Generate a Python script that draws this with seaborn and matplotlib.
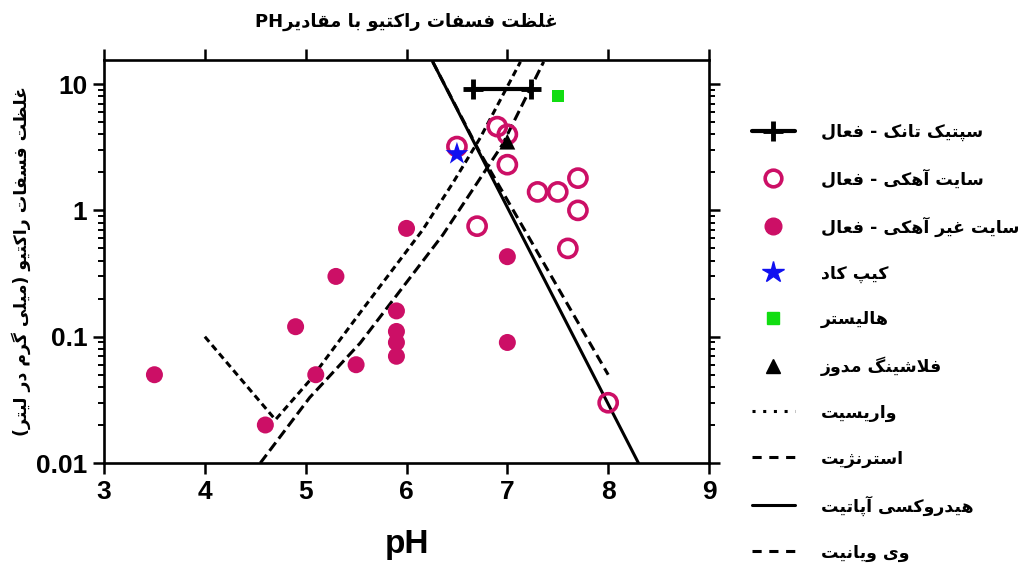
import numpy as np
import pandas as pd
import matplotlib
matplotlib.use("Agg")
import matplotlib.pyplot as plt
from matplotlib.lines import Line2D
import seaborn as sns

# --- data ---
calc_ph = [6.5, 6.9, 7.0, 7.0, 6.7, 7.3, 7.5, 7.7, 7.7, 7.6, 8.0]
calc_p = [3.2, 4.6, 4.0, 2.3, 0.75, 1.4, 1.4, 1.8, 1.0, 0.5, 0.03]

noncalc_ph = [3.5, 4.6, 4.9, 5.1, 5.3, 5.5, 5.9, 5.9, 5.9, 5.9, 6.0, 7.0, 7.0]
noncalc_p = [0.05, 0.02, 0.12, 0.05, 0.3, 0.06, 0.16, 0.11, 0.09, 0.07, 0.72, 0.43, 0.09]

septic_ph = [6.66, 7.23]
septic_p = [9.2, 9.2]
capecod_ph, capecod_p = [6.5], [2.8]
hollister_ph, hollister_p = [7.5], [8.0]
flushing_ph, flushing_p = [7.0], [3.5]

variscite_ph = [4.0, 4.7, 5.04, 5.54, 6.16, 6.46, 6.73, 7.13]
variscite_p = [0.1, 0.022, 0.045, 0.155, 0.70, 1.65, 3.74, 15]
strengite_ph = [4.55, 5.04, 5.54, 6.36, 6.95, 7.36]
strengite_p = [0.01, 0.033, 0.089, 0.64, 3.3, 15]
hydroxyapatite_ph = [6.26, 8.30]
hydroxyapatite_p = [15, 0.01]
vivianite_ph = [6.26, 6.73, 8.0]
vivianite_p = [15, 2.85, 0.05]

yticks = [0.01, 0.1, 1, 10]
ytick_labels = ['0.01', '0.1', '1', '10']
xticks = [3, 4, 5, 6, 7, 8, 9]

title_fa = 'غلظت فسفات راکتیو با مقادیر'
ylabel_fa = 'غلظت فسفات راکتیو (میلی گرم در لیتر)'
labels_fa = ['سپتیک تانک - فعال', 'سایت آهکی - فعال', 'سایت غیر آهکی - فعال',
             'کیپ کاد', 'هالیستر', 'فلاشینگ مدوز', 'واریسیت', 'استرنژیت',
             'هیدروکسی آپاتیت', 'وی ویانیت']

# --- tiny persian shaper (matplotlib has no bidi / joining) ---
_F = {
    'ا': (0xFE8D, 0xFE8E), 'آ': (0xFE81, 0xFE82), 'د': (0xFEA9, 0xFEAA),
    'ر': (0xFEAD, 0xFEAE), 'ز': (0xFEAF, 0xFEB0), 'ژ': (0xFB8A, 0xFB8B),
    'و': (0xFEED, 0xFEEE),
    'ب': (0xFE8F, 0xFE90, 0xFE91, 0xFE92), 'پ': (0xFB56, 0xFB57, 0xFB58, 0xFB59),
    'ت': (0xFE95, 0xFE96, 0xFE97, 0xFE98), 'س': (0xFEB1, 0xFEB2, 0xFEB3, 0xFEB4),
    'ش': (0xFEB5, 0xFEB6, 0xFEB7, 0xFEB8), 'ظ': (0xFEC5, 0xFEC6, 0xFEC7, 0xFEC8),
    'ع': (0xFEC9, 0xFECA, 0xFECB, 0xFECC), 'غ': (0xFECD, 0xFECE, 0xFECF, 0xFED0),
    'ف': (0xFED1, 0xFED2, 0xFED3, 0xFED4), 'ق': (0xFED5, 0xFED6, 0xFED7, 0xFED8),
    'ک': (0xFB8E, 0xFB8F, 0xFB90, 0xFB91), 'گ': (0xFB92, 0xFB93, 0xFB94, 0xFB95),
    'ل': (0xFEDD, 0xFEDE, 0xFEDF, 0xFEE0), 'م': (0xFEE1, 0xFEE2, 0xFEE3, 0xFEE4),
    'ن': (0xFEE5, 0xFEE6, 0xFEE7, 0xFEE8), 'ه': (0xFEE9, 0xFEEA, 0xFEEB, 0xFEEC),
    'ی': (0xFBFC, 0xFBFD, 0xFBFE, 0xFBFF),
}
_LA = {'ا': (0xFEFB, 0xFEFC), 'آ': (0xFEF5, 0xFEF6)}


def rtl(s):
    out = []
    i = 0
    prev = False
    while i < len(s):
        c = s[i]
        if c == 'ل' and i + 1 < len(s) and s[i + 1] in _LA:
            f = _LA[s[i + 1]]
            out.append(chr(f[1] if prev else f[0]))
            prev = False
            i += 2
            continue
        if c not in _F:
            out.append(c)
            prev = False
            i += 1
            continue
        f = _F[c]
        nxt = s[i + 1] if i + 1 < len(s) else ''
        nj = len(f) == 4 and nxt in _F
        if prev and nj:
            g = f[3]
        elif prev:
            g = f[1]
        elif nj:
            g = f[2]
        else:
            g = f[0]
        out.append(chr(g))
        prev = len(f) == 4
        i += 1
    return ''.join(reversed(out)).translate(str.maketrans('()', ')('))


sns.set_style('ticks')
plt.rcParams['font.family'] = ['Liberation Sans', 'DejaVu Sans']
plt.rcParams['font.weight'] = 'bold'
for k in ['text.color', 'axes.labelcolor', 'xtick.color', 'ytick.color',
          'axes.edgecolor']:
    plt.rcParams[k] = 'black'

mag = '#CC0F66'
fig = plt.figure(figsize=(10.34, 5.65), dpi=100)
ax = fig.add_axes([0.1006, 0.1805, 0.5851, 0.7133])

# lines
lw = 2.2
sns.lineplot(x=variscite_ph, y=variscite_p, sort=False, estimator=None, ax=ax,
             color='black', lw=lw, linestyle=(0, (2.2, 1.4)))
sns.lineplot(x=strengite_ph, y=strengite_p, sort=False, estimator=None, ax=ax,
             color='black', lw=lw, linestyle=(0, (3.4, 1.6)))
sns.lineplot(x=hydroxyapatite_ph, y=hydroxyapatite_p, sort=False, estimator=None,
             ax=ax, color='black', lw=lw)
sns.lineplot(x=vivianite_ph, y=vivianite_p, sort=False, estimator=None, ax=ax,
             color='black', lw=lw, linestyle=(0, (3.2, 1.8)))

# septic tank
ax.plot(septic_ph, septic_p, color='black', lw=3, marker='+', ms=15, mew=3.5)

# points
sns.scatterplot(x=noncalc_ph, y=noncalc_p, ax=ax, color=mag, s=150,
                edgecolor='none', zorder=3)
sns.scatterplot(x=calc_ph, y=calc_p, ax=ax, marker='o', s=170,
                facecolor='none', edgecolor=mag, linewidth=2.6, zorder=3)
sns.scatterplot(x=capecod_ph, y=capecod_p, ax=ax, marker='*', color='#1010F0',
                s=300, edgecolor='none', zorder=4)
sns.scatterplot(x=hollister_ph, y=hollister_p, ax=ax, marker='s', color='#11DD11',
                s=70, edgecolor='none', zorder=4)
sns.scatterplot(x=flushing_ph, y=flushing_p, ax=ax, marker='^', color='black',
                s=130, edgecolor='none', zorder=4)

ax.set_yscale('log')
ax.set_xlim(3, 9)
ax.set_ylim(0.01, 15.5)
ax.set_xticks(xticks)
ax.set_xticklabels([str(t) for t in xticks])
ax.set_yticks(yticks)
ax.set_yticklabels(ytick_labels)
ax.tick_params(axis='both', which='major', labelsize=19, width=1.8, length=8,
               direction='out', top=True, right=True, labeltop=False,
               labelright=False, pad=4)
ax.tick_params(axis='y', which='minor', width=1.4, length=4.5, direction='out',
               right=True)
for sp in ax.spines.values():
    sp.set_visible(True)
    sp.set_linewidth(1.9)

ax.set_xlabel('pH', fontsize=24, fontweight='bold', labelpad=18)
ax.set_ylabel(rtl(ylabel_fa), fontsize=12.5, fontweight='bold',
              family=['DejaVu Sans'], labelpad=4)
ax.set_title('PH' + rtl(title_fa), fontsize=13, fontweight='bold',
             family=['DejaVu Sans'], pad=24)

handles = [
    Line2D([], [], color='black', lw=3, marker='+', ms=15, mew=3.5),
    Line2D([], [], ls='none', marker='o', ms=12, mfc='none', mec=mag, mew=2.6),
    Line2D([], [], ls='none', marker='o', ms=12, color=mag),
    Line2D([], [], ls='none', marker='*', ms=16, color='#1010F0'),
    Line2D([], [], ls='none', marker='s', ms=8, color='#11DD11'),
    Line2D([], [], ls='none', marker='^', ms=10, color='black'),
    Line2D([], [], color='black', lw=lw, ls=(0, (1, 2.5))),
    Line2D([], [], color='black', lw=lw, ls=(0, (3, 2.5))),
    Line2D([], [], color='black', lw=lw),
    Line2D([], [], color='black', lw=lw, ls=(0, (3, 2.5))),
]
leg = fig.legend(handles, [rtl(t) for t in labels_fa], loc='upper left',
                 bbox_to_anchor=(0.727, 0.782), frameon=False, handlelength=2.5,
                 handletextpad=1.5, labelspacing=1.6, borderaxespad=0,
                 borderpad=0,
                 prop={'family': ['DejaVu Sans'], 'weight': 'bold', 'size': 12.5})

fig.savefig('out.png', dpi=100)
